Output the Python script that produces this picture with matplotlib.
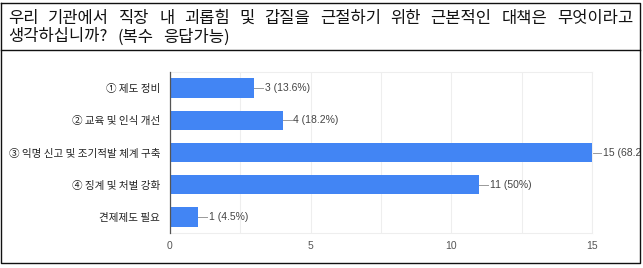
import matplotlib
matplotlib.use("Agg")
import matplotlib.pyplot as plt
from matplotlib.transforms import Bbox, TransformedBbox

plt.rcParams['font.family'] = ['Noto Sans CJK KR', 'DejaVu Sans']

# data
title_lines = ["우리 기관에서 직장 내 괴롭힘 및 갑질을 근절하기 위한 근본적인 대책은 무엇이라고",
               "생각하십니까? (복수 응답가능)"]
categories = ["① 제도 정비", "② 교육 및 인식 개선", "③ 익명 신고 및 조기적발 체계 구축",
              "④ 징계 및 처벌 강화", "견제제도 필요"]
counts = [3, 4, 15, 11, 1]
percents = ["13.6%", "18.2%", "68.2%", "50%", "4.5%"]
xticks = [0, 5, 10, 15]

W, H = 643, 268
fig = plt.figure(figsize=(W / 100, H / 100), dpi=100)

# chart area (pixel positions converted to figure fractions)
x0, x1, y_top, y_bot = 170, 592, 72, 233
ax = fig.add_axes([x0 / W, 1 - y_bot / H, (x1 - x0) / W, (y_bot - y_top) / H])

blue = '#4285f4'
ypos = list(range(len(categories)))
ax.barh(ypos, counts, height=0.6, color=blue, zorder=3)
ax.set_xlim(0, 15)
ax.set_ylim(len(categories) - 0.5, -0.5)

ax.set_yticks(ypos)
ax.set_yticklabels(categories, fontsize=7.6, color='#222222')
ax.set_xticks(xticks)
ax.set_xticklabels([str(t) for t in xticks], fontsize=7.5, color='#555555',
                   family=['Liberation Sans', 'DejaVu Sans'])
ax.set_xticks([2.5, 7.5, 12.5], minor=True)
ax.tick_params(axis='both', which='both', length=0)
ax.tick_params(axis='x', pad=6)
ax.tick_params(axis='y', pad=7)
ax.grid(axis='x', which='both', color='#eeeeee', linewidth=0.8, zorder=0)

for side in ['top', 'right', 'bottom']:
    ax.spines[side].set_color('#eeeeee')
    ax.spines[side].set_linewidth(0.8)
ax.spines['left'].set_color('#555555')
ax.spines['left'].set_linewidth(0.9)
ax.spines['left'].set_zorder(4)

# value labels with short leader lines, clipped at the table border
clip = TransformedBbox(Bbox.from_extents(0, 0, 639.5 / W, 1), fig.transFigure)
for y, c, p in zip(ypos, counts, percents):
    ax.plot([c, c + 0.32], [y, y], color='#999999', linewidth=0.7,
            clip_on=False, zorder=2)
    t = ax.text(c + 0.38, y, f"{c} ({p})", va='center', ha='left', fontsize=7.5,
                color='#444444', family=['Liberation Sans', 'DejaVu Sans'])
    t.set_clip_box(clip)
    t.set_clip_on(True)

# table frame and title
ov = fig.add_axes([0, 0, 1, 1], zorder=5)
ov.set_xlim(0, W)
ov.set_ylim(H, 0)
ov.axis('off')
ov.patch.set_alpha(0)
lk = dict(color='#111111', linewidth=1.0)
ov.plot([1, 640, 640, 1, 1], [3, 3, 263, 263, 3], **lk)
ov.plot([1, 640], [50, 50], **lk)

# title: words placed one by one so the word gaps are as wide as in the original
renderer = fig.canvas.get_renderer()
tk = dict(fontsize=11.9, va='center', ha='left', color='#111111')
gap = None
for line, ty in zip(title_lines, [18, 37]):
    words = line.split(" ")
    texts = [ov.text(0, ty, w, **tk) for w in words]
    widths = [t.get_window_extent(renderer).width for t in texts]
    if gap is None:
        gap = (633 - 8 - sum(widths)) / (len(words) - 1)
    x = 8
    for t, w in zip(texts, widths):
        t.set_x(x)
        x += w + gap

fig.savefig("out.png", dpi=100)
